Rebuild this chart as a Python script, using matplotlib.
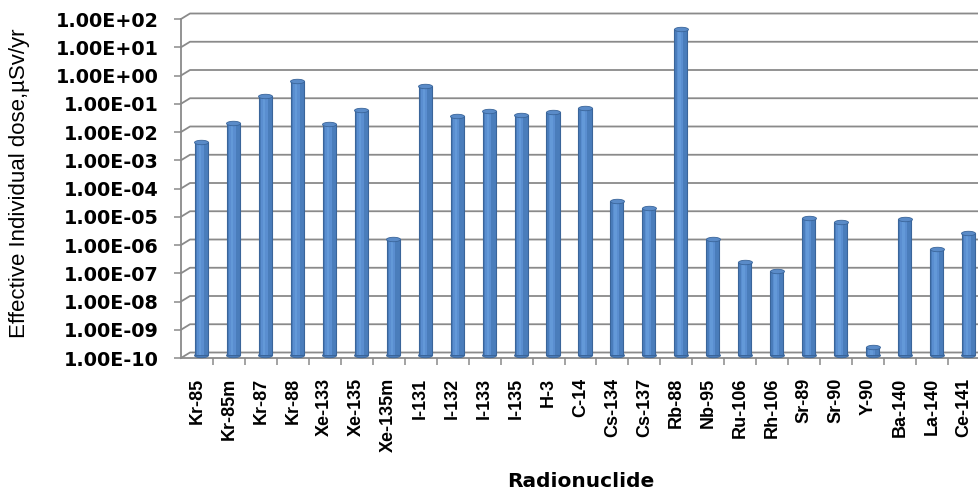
import matplotlib
matplotlib.use("Agg")
import matplotlib.pyplot as plt
import numpy as np
from matplotlib.ticker import FixedLocator, NullFormatter
from matplotlib.transforms import ScaledTranslation, IdentityTransform
from matplotlib.lines import Line2D
from matplotlib.path import Path

nuclides = ["Kr-85", "Kr-85m", "Kr-87", "Kr-88", "Xe-133", "Xe-135", "Xe-135m",
            "I-131", "I-132", "I-133", "I-135", "H-3", "C-14", "Cs-134", "Cs-137",
            "Rb-88", "Nb-95", "Ru-106", "Rh-106", "Sr-89", "Sr-90", "Y-90",
            "Ba-140", "La-140", "Ce-141"]
dose = [3.6e-3, 1.7e-2, 1.55e-1, 5.0e-1, 1.5e-2, 4.9e-2, 1.3e-6,
        3.3e-1, 3.0e-2, 4.6e-2, 3.2e-2, 4.1e-2, 5.6e-2, 2.9e-5, 1.6e-5,
        35.0, 1.3e-6, 2.0e-7, 9.5e-8, 7.0e-6, 5.2e-6, 2.0e-10,
        6.8e-6, 5.9e-7, 2.2e-6]
ytick_vals = [10.0 ** e for e in range(-10, 3)]
ytick_labels = ["1.00E-10", "1.00E-09", "1.00E-08", "1.00E-07", "1.00E-06",
                "1.00E-05", "1.00E-04", "1.00E-03", "1.00E-02", "1.00E-01",
                "1.00E+00", "1.00E+01", "1.00E+02"]

W, H = 979, 490
DPI = 100
fig = plt.figure(figsize=(W / DPI, H / DPI), dpi=DPI)
ax = fig.add_axes([181 / W, (H - 358) / H, 1 - 181 / W, (358 - 19) / H])

x = np.arange(len(nuclides))
grid_c = "#8a8a8a"
base = 1e-10

ax.set_yscale("log")
ax.set_ylim(1e-10, 1e2)
ax.set_xlim(-0.5, 24.47)
ax.yaxis.grid(False)
ax.xaxis.grid(False)

# depth offsets (pseudo-3D): bars sit halfway between front and back walls
depth_dx, depth_dy = 9.0, 5.5          # pixels, front -> back wall
bar_shift = ScaledTranslation(depth_dx / 2 / DPI, depth_dy / 2 / DPI,
                              fig.dpi_scale_trans)

bw = 0.41
layers = [
    dict(width=bw, dx=0.0, color="#4a7dbb", edgecolor="#3a659a", lw=0.8, z=3),
    dict(width=0.2, dx=-0.03, color="#5a8ed0", edgecolor="none", lw=0, z=4),
    dict(width=0.08, dx=-0.04, color="#6399d8", edgecolor="none", lw=0, z=5),
]
for L in layers:
    bars = ax.bar(x + L["dx"], np.array(dose) - base, bottom=base,
                  width=L["width"], color=L["color"], edgecolor=L["edgecolor"],
                  linewidth=L["lw"], zorder=L["z"])
    for b in bars:
        b.set_transform(ax.transData + bar_shift)
        b.set_clip_on(False)

# elliptical caps (top and bottom of each cylinder)
t = np.linspace(0, 2 * np.pi, 60)
ell = Path(np.column_stack([0.5 * np.cos(t), 0.16 * np.sin(t)]), closed=True)
cap_size = (bw * 31.95 * 0.72 + 0.6) ** 2
for yy, col, z in [(np.full(len(x), base), "#4a7dbb", 2.9), (dose, "#5a8bc8", 6)]:
    sc = ax.scatter(x, yy, marker=ell, s=cap_size, facecolor=col,
                    edgecolor="#3a659a", linewidth=0.6, zorder=z, clip_on=False)
    sc.set_offset_transform(ax.transData + bar_shift)

# back-wall gridlines with diagonal connectors to the front axis
x_left_disp = ax.transAxes.transform((0, 0))[0]
x_right_disp = ax.transAxes.transform((1, 0))[0]
for v in ytick_vals:
    yd = ax.transData.transform((0, v))[1]
    ln = Line2D([x_left_disp, x_left_disp + depth_dx, x_right_disp + 20],
                [yd, yd + depth_dy, yd + depth_dy],
                transform=IdentityTransform(), color=grid_c, linewidth=1.3,
                zorder=1, clip_on=False)
    ax.add_line(ln)

# y axis
ax.yaxis.set_major_locator(FixedLocator(ytick_vals))
ax.set_yticklabels(ytick_labels, fontfamily="DejaVu Sans", fontweight="bold",
                   fontsize=13.8)
ax.yaxis.set_minor_locator(FixedLocator([]))
ax.tick_params(axis="y", which="major", length=5, width=1.1, color=grid_c, pad=11)

# x axis
ax.set_xticks(x)
ax.set_xticklabels(nuclides, rotation=90, fontfamily="Liberation Sans",
                   fontweight="bold", fontsize=13, va="top", ha="center")
ax.tick_params(axis="x", which="major", length=0, pad=14)
ax.xaxis.set_minor_locator(FixedLocator(x[:-1] + 0.5))
ax.xaxis.set_minor_formatter(NullFormatter())
ax.tick_params(axis="x", which="minor", length=5, width=1.1, color=grid_c)

for s in ["top", "right"]:
    ax.spines[s].set_visible(False)
for s in ["left", "bottom"]:
    ax.spines[s].set_color(grid_c)
    ax.spines[s].set_linewidth(1.3)
ax.patch.set_alpha(0)

fig.text(20 / W, 1 - 183 / H, "Effective Individual dose,\u00b5Sv/yr",
         rotation=90, ha="center", va="center", fontfamily="Liberation Sans",
         fontsize=16)
fig.text(581 / W, 1 - 481 / H, "Radionuclide", ha="center", va="center",
         fontfamily="DejaVu Sans", fontweight="bold", fontsize=14.5)

fig.savefig("out.png", dpi=DPI)
